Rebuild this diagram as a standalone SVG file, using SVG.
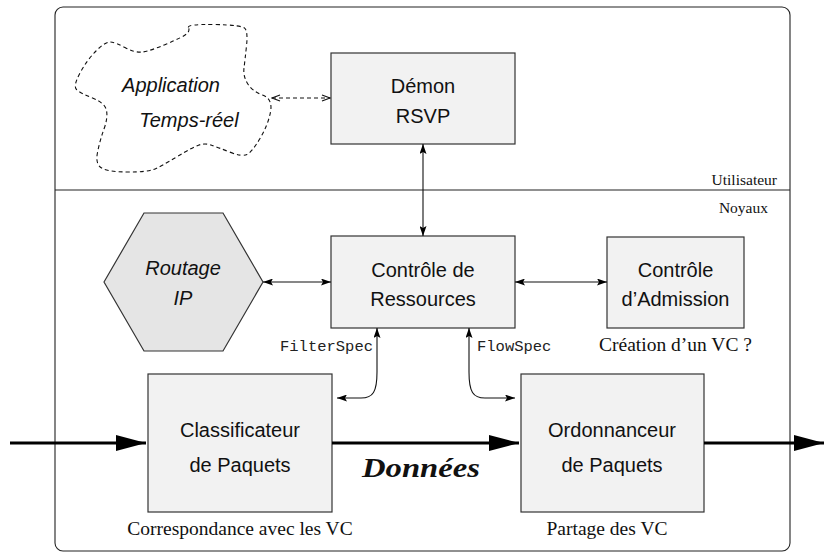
<svg xmlns="http://www.w3.org/2000/svg" width="824" height="554" viewBox="0 0 824 554">
<style>
.box{fill:#f2f2f2;stroke:#333;stroke-width:1.2}
.hex{fill:#e5e5e5;stroke:#333;stroke-width:1.2}
.sans{font-family:"Liberation Sans",Arial,sans-serif;font-size:20px;fill:#111;text-anchor:middle}
.it{font-style:italic}
.serif{font-family:"Liberation Serif","Times New Roman",serif;fill:#111}
.mono{font-family:"Liberation Mono","Courier New",monospace;font-size:15.5px;fill:#222}
.thin{fill:none;stroke:#111;stroke-width:1.1}
.thick{fill:none;stroke:#000;stroke-width:3.2}
.dash{fill:none;stroke:#111;stroke-width:1.1;stroke-dasharray:4 3}
</style>
<defs>
<marker id="sa" viewBox="0 0 10 7" refX="10" refY="3.5" markerWidth="10" markerHeight="7" markerUnits="userSpaceOnUse" orient="auto-start-reverse">
<path d="M0,0 L10,3.5 L0,7 L2,3.5 z" fill="#000"/>
</marker>
<marker id="oa" viewBox="0 0 10 8" refX="9" refY="4" markerWidth="10" markerHeight="8" markerUnits="userSpaceOnUse" orient="auto-start-reverse">
<path d="M1,1 L9,4 L1,7" fill="none" stroke="#111" stroke-width="1.1"/>
</marker>
<marker id="ba" viewBox="0 0 30 16" refX="30" refY="8" markerWidth="30" markerHeight="16" markerUnits="userSpaceOnUse" orient="auto">
<path d="M0,0 L30,8 L0,16 z" fill="#000"/>
</marker>
</defs>
<rect width="824" height="554" fill="#fff"/>
<g id="frame">
<rect x="55" y="7" width="735" height="544" rx="8" ry="8" fill="none" stroke="#222" stroke-width="1.1"/>
<line x1="55" y1="190" x2="790" y2="190" stroke="#222" stroke-width="1.1"/>
<text class="serif" x="777" y="185" font-size="15.5" text-anchor="end">Utilisateur</text>
<text class="serif" x="768" y="213" font-size="15.5" text-anchor="end">Noyaux</text>
</g>
<g id="application">
<path class="dash" d="M188.5,27.5 Q187,24 214.5,24.5 Q242,25 245,28.5 Q248,32 246.5,46 Q245,60 244,68 Q243,76 247.5,83.5 Q252,91 262.5,95 Q273,99 270.5,112 Q268,125 260,138.5 Q252,152 247,154.5 Q242,157 229.5,152 Q217,147 211,145 Q205,143 199,145 Q193,147 176.5,157 Q160,167 153.5,169.5 Q147,172 128.5,172 Q110,172 102.5,168.5 Q95,165 97.5,152.5 Q100,140 104,129 Q108,118 106.5,110.5 Q105,103 92.5,98 Q80,93 76.5,89.5 Q73,86 80,73 Q87,60 96,51 Q105,42 110,42 Q115,42 125,47.5 Q135,53 142.5,52 Q150,51 166.5,44 Q183,37 186.5,34 Q190,31 188.5,27.5 Z"/>
<text class="sans it" x="171" y="92">Application</text>
<text class="sans it" x="189" y="127">Temps-réel</text>
</g>
<g id="demon">
<rect class="box" x="331" y="53" width="184" height="91"/>
<text class="sans" x="423" y="93">Démon</text>
<text class="sans" x="423" y="123">RSVP</text>
</g>
<g id="routage">
<polygon class="hex" points="104,282 144,213 223,213 263,282 223,351 144,351"/>
<text class="sans it" x="183" y="275">Routage</text>
<text class="sans it" x="183" y="305">IP</text>
</g>
<g id="ressources">
<rect class="box" x="331" y="236" width="184" height="92"/>
<text class="sans" x="423" y="277">Contrôle de</text>
<text class="sans" x="423" y="306">Ressources</text>
</g>
<g id="admission">
<rect class="box" x="607" y="237" width="137" height="91"/>
<text class="sans" x="675.5" y="277">Contrôle</text>
<text class="sans" x="675.5" y="306">d’Admission</text>
<text class="serif" x="675.5" y="351" font-size="19.5" text-anchor="middle">Création d’un VC ?</text>
</g>
<g id="classificateur">
<rect class="box" x="148" y="374" width="184" height="138"/>
<text class="sans" x="240" y="437">Classificateur</text>
<text class="sans" x="240" y="472">de Paquets</text>
<text class="serif" x="240" y="535" font-size="19.5" text-anchor="middle">Correspondance avec les VC</text>
</g>
<g id="ordonnanceur">
<rect class="box" x="521" y="374" width="183" height="138"/>
<text class="sans" x="612" y="437">Ordonnanceur</text>
<text class="sans" x="612" y="472">de Paquets</text>
<text class="serif" x="607" y="535" font-size="19.5" text-anchor="middle">Partage des VC</text>
</g>
<g id="connectors">
<path class="dash" d="M272,98 L330,98" marker-start="url(#oa)" marker-end="url(#oa)"/>
<path class="thin" d="M423,144 L423,236" marker-start="url(#sa)" marker-end="url(#sa)"/>
<path class="thin" d="M263,282 L331,282" marker-start="url(#sa)" marker-end="url(#sa)"/>
<path class="thin" d="M515,282 L607,282" marker-start="url(#sa)" marker-end="url(#sa)"/>
<path class="thin" d="M377,328 L377,372 C377,392 373,398 361,398 L337,398" marker-start="url(#sa)" marker-end="url(#sa)"/>
<path class="thin" d="M469,328 L469,372 C469,392 473,398 485,398 L515,398" marker-start="url(#sa)" marker-end="url(#sa)"/>
<path class="thick" d="M10,443 L146,443" marker-end="url(#ba)"/>
<path class="thick" d="M332,443 L519,443" marker-end="url(#ba)"/>
<path class="thick" d="M704,443 L824,443" marker-end="url(#ba)"/>
<text class="mono" x="373" y="351" text-anchor="end">FilterSpec</text>
<text class="mono" x="477" y="351">FlowSpec</text>
<text class="serif" x="362" y="477" font-size="27" font-weight="bold" font-style="italic" textLength="118" lengthAdjust="spacingAndGlyphs">Données</text>
</g>
</svg>
